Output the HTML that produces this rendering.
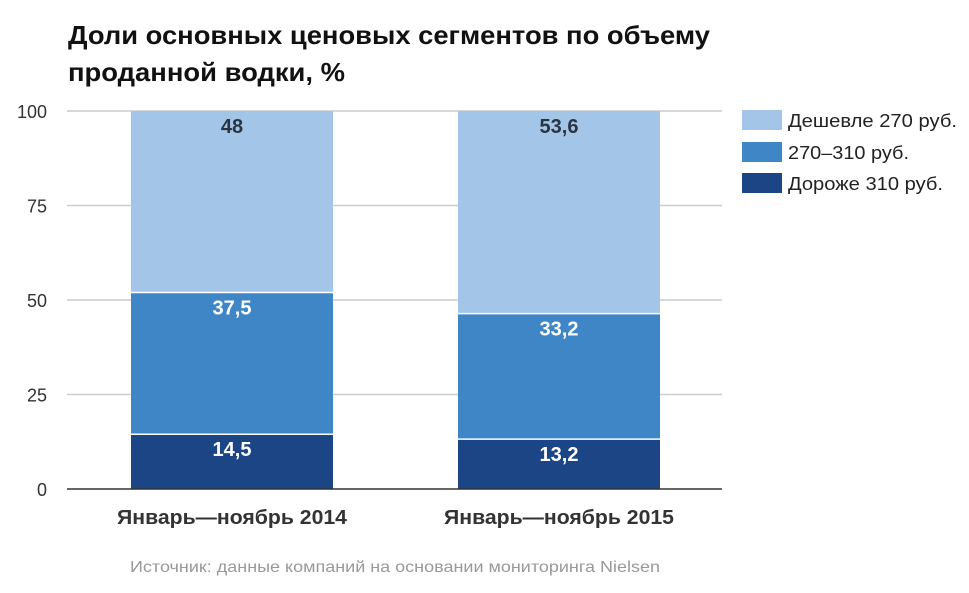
<!DOCTYPE html>
<html><head><meta charset="utf-8">
<style>
body{margin:0;background:#fff;width:969px;height:588px;overflow:hidden;font-family:"Liberation Sans",Arial,sans-serif;}
</style></head>
<body>
<svg id="chart" width="969" height="588" xmlns="http://www.w3.org/2000/svg">
<text x="68" y="44" font-size="26" font-weight="bold" fill="#111" textLength="642" lengthAdjust="spacingAndGlyphs">Доли основных ценовых сегментов по объему</text>
<text x="68" y="81" font-size="26" font-weight="bold" fill="#111" textLength="277" lengthAdjust="spacingAndGlyphs">проданной водки, %</text>
<g id="grid"></g><g id="bars"></g><g id="labels"></g>
<line x1="67" y1="489" x2="722" y2="489" stroke="#333" stroke-width="1.5"/>
<g>
<rect x="742" y="110" width="40" height="20" fill="#a2c5e8"/>
<text x="788" y="127" font-size="18" fill="#222" textLength="169" lengthAdjust="spacingAndGlyphs">Дешевле 270 руб.</text>
<rect x="742" y="142" width="40" height="20" fill="#3f86c6"/>
<text x="788" y="159" font-size="18" fill="#222" textLength="121" lengthAdjust="spacingAndGlyphs">270–310 руб.</text>
<rect x="742" y="173" width="40" height="20" fill="#1c4585"/>
<text x="788" y="190" font-size="18" fill="#222" textLength="155" lengthAdjust="spacingAndGlyphs">Дороже 310 руб.</text>
</g>
<text x="130" y="572" font-size="16" fill="#999" textLength="530" lengthAdjust="spacingAndGlyphs">Источник: данные компаний на основании мониторинга Nielsen</text>
</svg>
<script>
const categories = ["Январь—ноябрь 2014", "Январь—ноябрь 2015"];
const expensive = [14.5, 13.2];
const middle = [37.5, 33.2];
const cheap = [48, 53.6];
const ticks = [0, 25, 50, 75, 100];

const NS = "http://www.w3.org/2000/svg";
const y0 = 489, y100 = 111;
const yScale = v => y0 - (y0 - y100) * v / 100;
const barW = 202;
const xCenter = i => 232 + i * 327;
function mk(tag, attrs, parent, txt) {
  const e = document.createElementNS(NS, tag);
  for (const k in attrs) e.setAttribute(k, attrs[k]);
  if (txt !== undefined) e.textContent = txt;
  parent.appendChild(e);
  return e;
}
const grid = document.getElementById('grid');
const bars = document.getElementById('bars');
const labels = document.getElementById('labels');
ticks.forEach(t => {
  const y = yScale(t);
  if (t !== 0) {
    const l = mk('line', {x1: 67, x2: 722, y1: y, y2: y, stroke: '#ccc', 'stroke-width': 1.5}, grid);
    
    
  }
  const tx = mk('text', {x: 47, y: y + 7, 'font-size': 18, fill: '#333', 'text-anchor': 'end'}, grid, String(t));
  
  
});
const series = [
  {vals: expensive, color: '#1c4585', txt: '#fff', name: 'expensive'},
  {vals: middle, color: '#3f86c6', txt: '#fff', name: 'middle'},
  {vals: cheap, color: '#a2c5e8', txt: '#2b3440', name: 'cheap'}
];
categories.forEach((c, i) => {
  let base = 0;
  const x = xCenter(i) - barW / 2;
  series.forEach((s, si) => {
    const v = s.vals[i];
    const yt = yScale(base + v), yb = yScale(base);
    const r = mk('rect', {x: x, y: yt, width: barW, height: yb - yt, fill: s.color}, bars);
    
    
    if (si > 0) {
      const ln = mk('line', {x1: x, x2: x + barW, y1: yb, y2: yb, stroke: '#fff', 'stroke-width': 1.5}, bars);
      
      
    }
    const lbl = mk('text', {x: xCenter(i), y: yt + 22, 'font-size': 20, 'font-weight': 'bold', fill: s.txt, 'text-anchor': 'middle'}, labels, String(v).replace('.', ','));
    
    
    base += v;
  });
  const cl = mk('text', {x: xCenter(i) - 115, y: 524, 'font-size': 20, 'font-weight': 'bold', fill: '#333', textLength: 230, lengthAdjust: 'spacingAndGlyphs'}, labels, c);
  
  
});
</script>
</body></html>
